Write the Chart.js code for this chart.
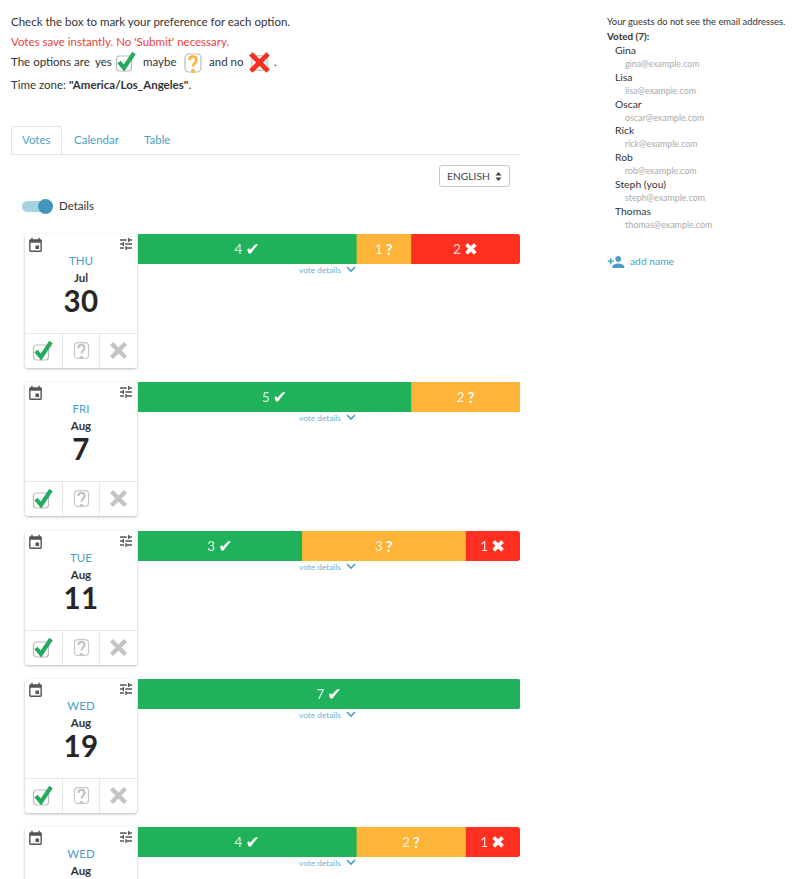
<!DOCTYPE html>
<html>
  <head>
    <script src="https://cdn.jsdelivr.net/npm/chart.js"></script>
    <title>Votes</title>
    <style>
      html, body { margin: 0; padding: 0; height: 879px; overflow: hidden; background: white; }
      body { position: relative; width: 800px; font-family: Lato, "Open Sans", sans-serif; font-size: 11.5px; line-height: 14px; color: #333; }
      .abs { position: absolute; white-space: nowrap; }
      .blue { color: #4a9fc4; }
      .tabline { position: absolute; left: 11px; top: 154px; width: 509px; height: 1px; background: #e3e3e3; }
      .tab { position: absolute; left: 11px; top: 126px; width: 49px; height: 28px; border: 1px solid #e3e3e3; border-bottom: 1px solid white; border-radius: 3px 3px 0 0; }
      .select { position: absolute; left: 439px; top: 165px; width: 69px; height: 20px; border: 1px solid #c8c8c8; border-radius: 3px; font-size: 10.3px; line-height: 20px; color: #444; }
      .select span { position: absolute; left: 7px; }
      .select svg { position: absolute; left: 55px; top: 6px; }
      .switch { position: absolute; left: 22px; top: 201px; width: 28px; height: 11px; border-radius: 6px; background: #a6d2e4; }
      .knob { position: absolute; left: 38px; top: 199px; width: 15px; height: 15px; border-radius: 50%; background: #4495bb; }
      .card { position: absolute; left: 25px; width: 112px; height: 134px; background: white; border-radius: 3px; box-shadow: 0 1px 3px rgba(0,0,0,.28); }
      .card div { position: absolute; left: 0; width: 112px; text-align: center; }
      .weekday { top: 19px; font-size: 11.5px; color: #4a9fc4; line-height: 15px; }
      .month { top: 36px; font-size: 11.5px; font-weight: 700; color: #333; line-height: 15px; }
      .day { top: 52px; font-size: 29.5px; font-weight: 700; color: #262626; line-height: 30px; letter-spacing: .5px; }
      .card .rule { top: 99px; height: 1px; background: #e8e8e8; }
      .card .cell { top: 100px; width: 1px; height: 34px; background: #e8e8e8; }
      .card svg { position: absolute; }
      canvas { position: absolute; left: 138px; }
      .vd { position: absolute; left: 299px; font-size: 8.3px; line-height: 10px; color: #6fb1cf; }
      .vd svg { position: absolute; left: 47px; top: 1px; }
      .small { font-size: 8.9px; line-height: 11px; color: #aaa; }
      .name { font-size: 10.4px; line-height: 13px; color: #333; }
    </style>
  </head>
  <body>
    <svg width="0" height="0" style="position:absolute">
      <defs>
        <symbol id="yes" viewBox="0 0 24 24"><rect x="2.5" y="7" width="15" height="15" rx="3" fill="none" stroke="#bbb" stroke-width="1.2"/><path d="M5 13 L10 19 L20 4" fill="none" stroke="#22ab5c" stroke-width="4.2"/></symbol>
        <symbol id="maybe" viewBox="0 0 24 24"><rect x="4" y="3" width="16" height="18" rx="4" fill="none" stroke="#bbb" stroke-width="1.2"/><path d="M8.5 9 C8.5 4.5 15.5 4.5 15.5 9 C15.5 12 12 12 12 15.5" fill="none" stroke="#fdb438" stroke-width="2.8"/><circle cx="12" cy="20" r="2" fill="#fdb438"/></symbol>
        <symbol id="no" viewBox="0 0 24 24"><rect x="4" y="5" width="16" height="15" rx="2" fill="none" stroke="#bbb" stroke-width="1.2"/><path d="M3 3 L21 21 M21 3 L3 21" fill="none" stroke="#f6301f" stroke-width="5"/></symbol>
        <symbol id="maybeOff" viewBox="0 0 24 24"><rect x="4" y="3" width="16" height="18" rx="4" fill="none" stroke="#c8c8c8" stroke-width="1.4"/><path d="M8.5 9 C8.5 4.5 15.5 4.5 15.5 9 C15.5 12 12 12 12 15.5" fill="none" stroke="#c4c4c4" stroke-width="2.6"/><circle cx="12" cy="20" r="2" fill="#c4c4c4"/></symbol>
        <symbol id="noOff" viewBox="0 0 24 24"><path d="M4 4 L20 20 M20 4 L4 20" fill="none" stroke="#c4c4c4" stroke-width="5"/></symbol>
        <symbol id="cal" viewBox="0 0 24 24"><path fill="#555" d="M17 12h-5v5h5v-5zM16 1v2H8V1H6v2H5c-1.11 0-1.99.9-1.99 2L3 19c0 1.1.89 2 2 2h14c1.1 0 2-.9 2-2V5c0-1.1-.9-2-2-2h-1V1h-2zm3 18H5V8h14v11z"/></symbol>
        <symbol id="tune" viewBox="0 0 24 24"><path fill="#555" d="M3 17v2h6v-2H3zM3 5v2h10V5H3zm10 16v-2h8v-2h-8v-2h-2v6h2zM7 9v2H3v2h4v2h2V9H7zm14 4v-2H11v2h10zm-6-4h2V7h4V5h-4V3h-2v6z"/></symbol>
        <symbol id="addp" viewBox="0 0 24 24"><path fill="#4a9fc4" d="M15 12c2.21 0 4-1.79 4-4s-1.79-4-4-4-4 1.79-4 4 1.79 4 4 4zm-9-2V7H4v3H1v2h3v3h2v-3h3v-2H6zm9 4c-2.67 0-8 1.34-8 4v2h16v-2c0-2.66-5.33-4-8-4z"/></symbol>
      </defs>
    </svg>

    <div class="abs" style="left:11px;top:15px">Check the box to mark your preference for each option.</div>
    <div class="abs" style="left:11px;top:35px;color:#f0413c">Votes save instantly. No 'Submit' necessary.</div>
    <div class="abs" style="left:11px;top:55px">The options are</div>
    <div class="abs" style="left:95px;top:55px">yes</div>
    <svg class="abs" style="left:114px;top:49px" width="24" height="24"><use href="#yes"/></svg>
    <div class="abs" style="left:143px;top:55px">maybe</div>
    <svg class="abs" style="left:181px;top:51px" width="24" height="24"><use href="#maybe"/></svg>
    <div class="abs" style="left:209px;top:55px">and no</div>
    <svg class="abs" style="left:248px;top:51px" width="23" height="23"><use href="#no"/></svg>
    <div class="abs" style="left:274px;top:55px">.</div>
    <div class="abs" style="left:11px;top:78px">Time zone: <b>"America/Los_Angeles"</b>.</div>

    <div class="tabline"></div>
    <div class="tab"></div>
    <div class="abs blue" style="left:22px;top:133px">Votes</div>
    <div class="abs blue" style="left:74px;top:133px">Calendar</div>
    <div class="abs blue" style="left:144px;top:133px">Table</div>
    <div class="select"><span>ENGLISH</span><svg width="7" height="9"><path d="M3.5 0 L6.5 3.5 H0.5 Z M3.5 9 L6.5 5.5 H0.5 Z" fill="#444"/></svg></div>
    <div class="switch"></div>
    <div class="knob"></div>
    <div class="abs" style="left:59px;top:199px">Details</div>

    <div class="abs" style="left:607px;top:15px;font-size:9.4px">Your guests do not see the email addresses.</div>
    <div class="abs" style="left:607px;top:29px;font-size:9.9px;font-weight:700">Voted (7):</div>
    <div id="guests"></div>
    <svg class="abs" style="left:607px;top:253px" width="18" height="18"><use href="#addp"/></svg>
    <div class="abs blue" style="left:630px;top:254px;font-size:10.3px">add name</div>

    <div id="rows"></div>

    <script>
      const weekdays = ['THU', 'FRI', 'TUE', 'WED', 'WED'];
      const months = ['Jul', 'Aug', 'Aug', 'Aug', 'Aug'];
      const days = ['30', '7', '11', '19', ''];
      const yesVotes = [4, 5, 3, 7, 4];
      const maybeVotes = [1, 2, 3, 0, 2];
      const noVotes = [2, 0, 1, 0, 1];
      const guestNames = ['Gina', 'Lisa', 'Oscar', 'Rick', 'Rob', 'Steph (you)', 'Thomas'];
      const guestEmails = ['gina@example.com', 'lisa@example.com', 'oscar@example.com', 'rick@example.com', 'rob@example.com', 'steph@example.com', 'thomas@example.com'];

      const guests = document.getElementById('guests');
      guestNames.forEach((name, i) => {
        const top = 44 + i * 26.8;
        guests.innerHTML += `<div class="abs name" style="left:615px;top:${top}px">${name}</div>`;
        guests.innerHTML += `<div class="abs small" style="left:625px;top:${top + 14}px">${guestEmails[i]}</div>`;
      });

      // count and glyph in the middle of each segment
      const glyphs = ['\u2714', '?', '\u2716'];
      const glyphFonts = ['bold 17px "DejaVu Sans", sans-serif', 'bold 15px Lato, sans-serif', 'bold 17px "DejaVu Sans", sans-serif'];
      const glyphShift = [2, 1, 2];
      const voteLabels = {
        id: 'voteLabels',
        afterDatasetsDraw(chart) {
          const ctx = chart.ctx;
          chart.data.datasets.forEach((ds, d) => {
            if (!ds.data[0]) return;
            const center = chart.getDatasetMeta(d).data[0].getCenterPoint();
            const count = String(ds.data[0]);
            ctx.save();
            ctx.textBaseline = 'middle';
            ctx.font = '13.5px Lato, sans-serif';
            const w1 = ctx.measureText(count).width;
            ctx.font = glyphFonts[d];
            const w2 = ctx.measureText(glyphs[d]).width;
            const left = center.x - (w1 + 3 + w2) / 2;
            ctx.textAlign = 'left';
            ctx.fillStyle = 'rgba(255,255,255,0.85)';
            ctx.font = '13.5px Lato, sans-serif';
            ctx.fillText(count, left, center.y + 1);
            ctx.fillStyle = 'white';
            ctx.font = glyphFonts[d];
            ctx.fillText(glyphs[d], left + w1 + 3, center.y + glyphShift[d]);
            ctx.restore();
          });
        }
      };

      const rows = document.getElementById('rows');
      weekdays.forEach((weekday, i) => {
        const top = 234 + i * 148.3;
        const card = document.createElement('div');
        card.className = 'card';
        card.style.top = top + 'px';
        card.innerHTML = `
          <svg style="left:2px;top:3px" width="17" height="17"><use href="#cal"/></svg>
          <svg style="left:93px;top:2px" width="16" height="16"><use href="#tune"/></svg>
          <div class="weekday">${weekday}</div>
          <div class="month">${months[i]}</div>
          <div class="day">${days[i]}</div>
          <div class="rule"></div>
          <div class="cell" style="left:37px"></div>
          <div class="cell" style="left:74px"></div>
          <svg style="left:6px;top:104px" width="24" height="24"><use href="#yes"/></svg>
          <svg style="left:46px;top:106px" width="21" height="21"><use href="#maybeOff"/></svg>
          <svg style="left:83px;top:106px" width="21" height="21"><use href="#noOff"/></svg>`;
        rows.appendChild(card);

        const canvas = document.createElement('canvas');
        canvas.width = 382;
        canvas.height = 30;
        canvas.style.top = top + 'px';
        rows.appendChild(canvas);

        const vd = document.createElement('div');
        vd.className = 'vd';
        vd.style.top = (top + 31) + 'px';
        vd.innerHTML = 'vote details<svg width="10" height="7"><path d="M1 1 L5 5 L9 1" fill="none" stroke="#4a9fc4" stroke-width="1.6"/></svg>';
        rows.appendChild(vd);

        // only the last non-empty segment gets the rounded right end
        const values = [yesVotes[i], maybeVotes[i], noVotes[i]];
        const lastSeg = values.reduce((last, v, k) => (v > 0 ? k : last), 0);
        const colors = ['#1fb25a', '#fdb438', '#ff3021'];
        const names = ['Yes', 'Maybe', 'No'];

        new Chart(canvas.getContext('2d'), {
          type: 'bar',
          data: {
            labels: [weekday + ' ' + months[i] + ' ' + days[i]],
            datasets: values.map((v, k) => ({
              label: names[k],
              data: [v],
              backgroundColor: colors[k],
              borderSkipped: false,
              borderRadius: k === lastSeg ? { topRight: 4, bottomRight: 4, topLeft: 0, bottomLeft: 0 } : 0,
              barPercentage: 1,
              categoryPercentage: 1,
            })),
          },
          options: {
            indexAxis: 'y',
            responsive: false,
            animation: false,
            layout: { padding: 0 },
            plugins: { legend: { display: false }, tooltip: { enabled: false } },
            scales: {
              x: { stacked: true, display: false, min: 0, max: 7 },
              y: { stacked: true, display: false },
            },
          },
          plugins: [voteLabels],
        });
      });
    </script>
  </body>
</html>
